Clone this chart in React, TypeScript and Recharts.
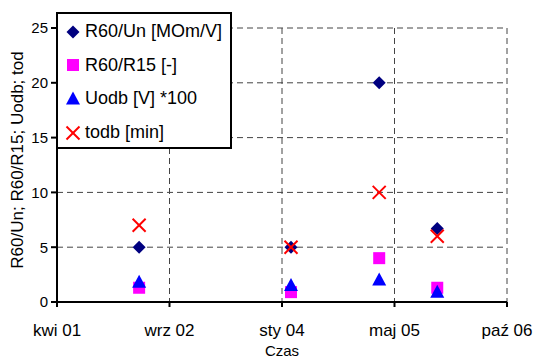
import React from 'react'
import { ScatterChart, Scatter, XAxis, YAxis, CartesianGrid, Legend } from 'recharts'

const measureDates = ['2002-04-19', '2004-02-23', '2005-03-21', '2005-12-04']
const r60un = [5, 5, 20, 6.7]
const r60r15 = [1.3, 0.9, 4, 1.3]
const uodb = [1.8, 1.5, 2, 0.9]
const todb = [7, 5, 10, 6]

const xTickDates = ['2001-04-19', '2002-09-01', '2004-01-14', '2005-05-28', '2006-10-10']
const yTicks = [0, 5, 10, 15, 20, 25]
const months = ['sty', 'lut', 'mar', 'kwi', 'maj', 'cze', 'lip', 'sie', 'wrz', 'paź', 'lis', 'gru']

const FONT = '"Liberation Sans", Arial, sans-serif'

const toMs = (d: string) => Date.parse(d + 'T00:00:00Z')
const xTicks = xTickDates.map(toMs)

const formatDate = (v: number) => {
  const d = new Date(v)
  return `${months[d.getUTCMonth()]} ${String(d.getUTCFullYear()).slice(2)}`
}

const points = (values: number[]) => measureDates.map((d, i) => ({ x: toMs(d), y: values[i] }))

type Marker = 'diamond' | 'square' | 'triangle' | 'x'

function MarkerShape({ cx, cy, kind, color }: { cx: number; cy: number; kind: Marker; color: string }) {
  if (cx == null || cy == null) return null
  switch (kind) {
    case 'diamond':
      return <polygon points={`${cx},${cy - 6.5} ${cx + 6.5},${cy} ${cx},${cy + 6.5} ${cx - 6.5},${cy}`} fill={color} />
    case 'square':
      return <rect x={cx - 6} y={cy - 6} width={12} height={12} fill={color} />
    case 'triangle':
      return <polygon points={`${cx},${cy - 7.5} ${cx + 7},${cy + 5.5} ${cx - 7},${cy + 5.5}`} fill={color} />
    case 'x':
      return (
        <g stroke={color} strokeWidth={2}>
          <line x1={cx - 6.5} y1={cy - 6.5} x2={cx + 6.5} y2={cy + 6.5} />
          <line x1={cx - 6.5} y1={cy + 6.5} x2={cx + 6.5} y2={cy - 6.5} />
        </g>
      )
  }
}

const series: { name: string; values: number[]; color: string; kind: Marker }[] = [
  { name: 'R60/Un [MOm/V]', values: r60un, color: '#000080', kind: 'diamond' },
  { name: 'R60/R15 [-]', values: r60r15, color: '#FF00FF', kind: 'square' },
  { name: 'Uodb [V] *100', values: uodb, color: '#0000FF', kind: 'triangle' },
  { name: 'todb [min]', values: todb, color: '#FF0000', kind: 'x' },
]

function LegendBox() {
  return (
    <div
      style={{
        width: 176,
        height: 137,
        boxSizing: 'border-box',
        border: '2px solid #000',
        background: '#fff',
        paddingTop: 1,
        fontFamily: FONT,
        fontSize: 18,
        color: '#000',
      }}
    >
      {series.map((s) => (
        <div key={s.name} style={{ height: 33.6, display: 'flex', alignItems: 'center' }}>
          <svg width={24} height={20} style={{ marginLeft: 3, flex: 'none' }}>
            <MarkerShape cx={12} cy={10} kind={s.kind} color={s.color} />
          </svg>
          <span style={{ whiteSpace: 'nowrap' }}>{s.name}</span>
        </div>
      ))}
    </div>
  )
}

export default function App() {
  return (
    <div style={{ position: 'absolute', left: 0, top: 0, width: 536, height: 358, background: '#fff' }}>
      <ScatterChart width={536} height={358} margin={{ top: 28, right: 29, bottom: 0, left: 0 }}>
        <CartesianGrid stroke="#444" strokeDasharray="6 4" />
        <XAxis
          dataKey="x"
          type="number"
          domain={[xTicks[0], xTicks[xTicks.length - 1]]}
          ticks={xTicks}
          tickFormatter={formatDate}
          height={56}
          tickSize={5}
          tickMargin={17}
          tick={{ fontSize: 17, fill: '#000', fontFamily: FONT }}
          axisLine={{ stroke: '#000', strokeWidth: 2 }}
          tickLine={{ stroke: '#000', strokeWidth: 2 }}
          label={{
            content: () => (
              <text x={282} y={356} textAnchor="middle" fontSize={15} fontFamily={FONT} fill="#000">
                Czas
              </text>
            ),
          }}
        />
        <YAxis
          dataKey="y"
          type="number"
          domain={[0, 25]}
          ticks={yTicks}
          width={57}
          tickSize={6}
          tickMargin={3}
          tick={{ fontSize: 15, fill: '#000', fontFamily: FONT }}
          axisLine={{ stroke: '#000', strokeWidth: 2 }}
          tickLine={{ stroke: '#000', strokeWidth: 2 }}
          label={{
            content: () => (
              <text
                x={23}
                y={160}
                transform="rotate(-90, 23, 160)"
                textAnchor="middle"
                fontSize={17}
                fontFamily={FONT}
                fill="#000"
              >
                R60/Un; R60/R15; Uodb; tod
              </text>
            ),
          }}
        />
        {series.map((s) => (
          <Scatter
            key={s.name}
            name={s.name}
            data={points(s.values)}
            fill={s.color}
            isAnimationActive={false}
            shape={(p: any) => <MarkerShape cx={p.cx} cy={p.cy} kind={s.kind} color={s.color} />}
          />
        ))}
        <Legend
          layout="vertical"
          align="center"
          verticalAlign="middle"
          wrapperStyle={{ left: 56, top: 12, width: 176, height: 137 }}
          content={() => <LegendBox />}
        />
      </ScatterChart>
    </div>
  )
}
